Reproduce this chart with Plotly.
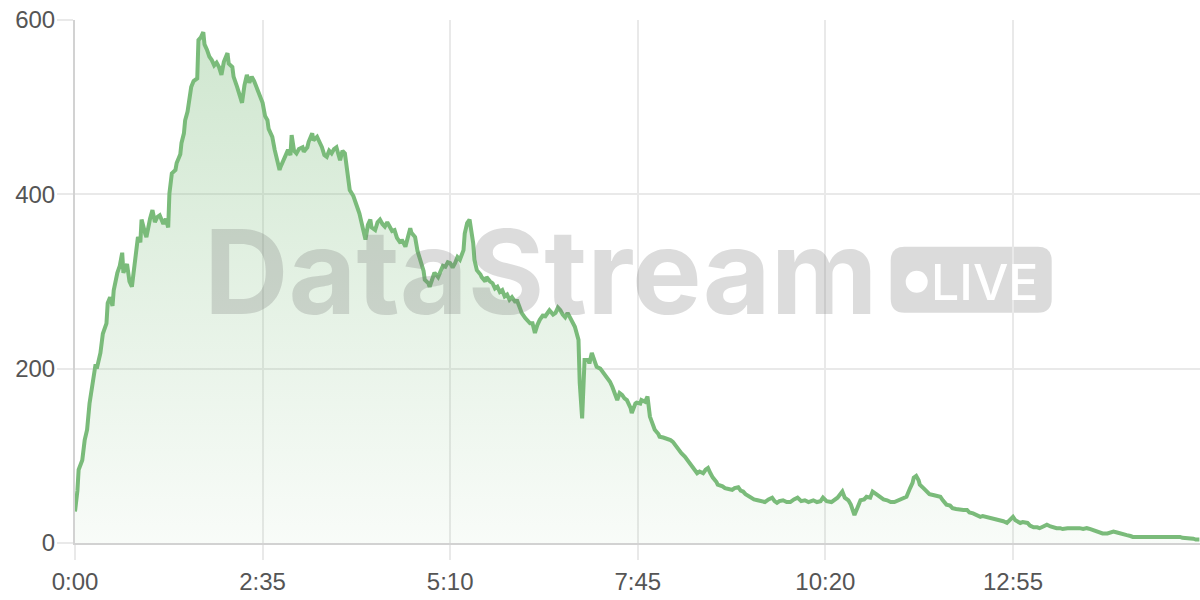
import plotly.graph_objects as go

# seconds since start, viewers
seconds = [
    0, 2, 3, 6, 8, 10, 12, 14, 17, 18, 21, 23, 26, 27, 29, 31, 32, 35, 37, 39,
    40, 43, 45, 47, 50, 52, 54, 55, 58, 59, 62, 64, 66, 68, 70, 73, 75, 77, 78, 80,
    83, 84, 87, 88, 90, 91, 93, 94, 96, 98, 101, 102, 104, 106, 107, 109, 111, 113, 115, 117,
    119, 121, 123, 126, 127, 130, 131, 134, 136, 138, 140, 142, 144, 146, 148, 150, 153, 155, 157, 159,
    160, 163, 165, 167, 169, 170, 172, 174, 176, 178, 179, 181, 183, 185, 188, 189, 192, 193, 196, 197,
    200, 202, 204, 206, 208, 210, 212, 214, 216, 219, 221, 223, 226, 227, 230, 231, 234, 235, 238, 240,
    242, 244, 245, 248, 250, 252, 254, 256, 258, 260, 262, 264, 266, 269, 270, 273, 275, 277, 278, 281,
    283, 285, 288, 289, 292, 293, 296, 297, 300, 302, 304, 306, 308, 310, 312, 314, 316, 318, 321, 322,
    324, 326, 328, 329, 330, 332, 335, 336, 339, 340, 343, 345, 347, 349, 351, 353, 355, 357, 359, 361,
    364, 365, 368, 369, 372, 373, 376, 378, 380, 382, 384, 387, 388, 391, 392, 395, 397, 399, 401, 403,
    405, 407, 409, 411, 413, 416, 417, 419, 420, 421, 424, 425, 427, 430, 431, 434, 435, 438, 440, 442,
    444, 446, 448, 450, 452, 454, 456, 459, 460, 463, 464, 467, 468, 471, 473, 475, 477, 479, 482, 483,
    486, 489, 492, 494, 497, 498, 501, 504, 506, 510, 512, 514, 516, 519, 521, 523, 525, 527, 530, 531,
    535, 537, 540, 543, 545, 548, 550, 552, 554, 558, 561, 564, 568, 570, 573, 576, 578, 580, 582, 585,
    588, 591, 594, 597, 600, 603, 606, 610, 613, 616, 618, 621, 625, 628, 630, 634, 636, 639, 641, 644,
    647, 649, 652, 654, 657, 659, 662, 665, 668, 671, 674, 677, 680, 683, 686, 687, 690, 692, 693, 695,
    697, 698, 701, 704, 706, 709, 712, 715, 717, 720, 723, 725, 728, 731, 734, 737, 739, 742, 745, 748,
    750, 753, 756, 758, 762, 764, 767, 770, 772, 775, 777, 781, 783, 787, 789, 792, 795, 797, 800, 803,
    806, 808, 811, 814, 816, 820, 822, 825, 828, 830, 833, 836, 839, 841, 844, 847, 849, 853, 855, 858,
    861, 863, 866, 869, 872, 874, 877, 880, 882, 886, 888, 891, 894, 896, 899, 902, 905, 907, 910, 913,
    915, 919, 921, 924, 926, 929,
]
viewers = [
    36, 60, 84, 95, 118, 130, 160, 180, 205, 200, 218, 240, 252, 275, 282, 272, 290, 310, 318, 333,
    310, 320, 300, 294, 333, 351, 345, 371, 355, 351, 372, 382, 368, 374, 376, 366, 372, 362, 401, 424,
    428, 436, 446, 459, 470, 485, 495, 505, 523, 530, 533, 577, 580, 586, 572, 566, 558, 554, 548, 551,
    546, 537, 552, 562, 550, 546, 535, 523, 515, 505, 525, 537, 528, 535, 530, 523, 510, 505, 490, 485,
    475, 466, 451, 440, 428, 432, 439, 446, 451, 445, 468, 450, 447, 452, 454, 449, 454, 460, 470, 462,
    466, 460, 454, 445, 443, 450, 447, 452, 454, 439, 450, 447, 416, 405, 398, 393, 382, 378, 360, 348,
    365, 371, 362, 359, 368, 371, 366, 363, 368, 363, 358, 359, 350, 344, 348, 340, 350, 361, 356, 351,
    335, 325, 312, 302, 298, 294, 305, 310, 305, 313, 318, 317, 322, 321, 316, 321, 328, 325, 336, 355,
    367, 371, 356, 344, 325, 313, 308, 305, 300, 305, 300, 298, 292, 294, 288, 290, 283, 285, 279, 282,
    276, 279, 268, 264, 258, 256, 252, 252, 241, 250, 256, 262, 259, 265, 267, 262, 264, 270, 267, 262,
    259, 264, 259, 254, 248, 233, 184, 143, 170, 210, 210, 206, 218, 205, 202, 200, 198, 194, 190, 185,
    179, 170, 164, 172, 170, 166, 164, 155, 149, 160, 161, 160, 164, 162, 168, 145, 138, 130, 125, 122,
    121, 120, 118, 116, 110, 107, 103, 99, 95, 89, 84, 80, 82, 80, 84, 86, 80, 75, 70, 67,
    65, 63, 62, 61, 63, 64, 60, 59, 56, 52, 50, 49, 48, 47, 50, 52, 48, 46, 48, 49,
    47, 47, 50, 52, 48, 49, 47, 49, 47, 48, 52, 48, 47, 50, 52, 59, 52, 49, 44, 32,
    44, 49, 50, 53, 52, 59, 56, 53, 50, 49, 47, 47, 49, 50, 52, 53, 63, 69, 75, 77,
    72, 67, 63, 59, 56, 55, 54, 53, 49, 44, 43, 40, 39, 38, 38, 38, 35, 34, 32, 30,
    31, 30, 29, 29, 27, 26, 25, 23, 26, 30, 26, 23, 24, 23, 20, 18, 18, 17, 19, 21,
    19, 18, 17, 17, 16, 17, 17, 18, 17, 17, 16, 17, 16, 15, 13, 11, 11, 11, 12, 13,
    12, 11, 10, 9, 8, 7, 7, 7, 7, 7, 8, 8, 8, 8, 7, 7, 8, 8, 7, 7,
    6, 6, 5, 5, 4, 4,
]

tick_seconds = [0, 155, 310, 465, 620, 775]
tick_labels = ["0:00", "2:35", "5:10", "7:45", "10:20", "12:55"]
y_ticks = [0, 200, 400, 600]

GREEN = "rgb(122,187,122)"
GRID = "#e9e9e9"
AXIS = "#d2d2d2"

fig = go.Figure()
fig.add_trace(go.Scatter(
    x=seconds, y=viewers, mode="lines",
    line=dict(color=GREEN, width=4),
    fill="tozeroy",
    fillgradient=dict(
        type="vertical", start=0, stop=590,
        colorscale=[[0, "rgba(122,187,122,0.05)"], [1, "rgba(122,187,122,0.36)"]],
    ),
    hoverinfo="skip",
))

# watermark: pill + dot behind the grid, text on top
px_w, px_h = 1125, 523
def px_x(p):
    return (p - 75) / px_w
def px_y(p):
    return (543 - p) / px_h

x0, x1 = px_x(890.7), px_x(1051.7)
yt, yb = px_y(246.7), px_y(312.7)
rx, ry = 14 / px_w, 14 / px_h
pill = (f"M {x0+rx},{yb} L {x1-rx},{yb} Q {x1},{yb} {x1},{yb+ry} "
        f"L {x1},{yt-ry} Q {x1},{yt} {x1-rx},{yt} L {x0+rx},{yt} "
        f"Q {x0},{yt} {x0},{yt-ry} L {x0},{yb+ry} Q {x0},{yb} {x0+rx},{yb} Z")
fig.add_shape(type="path", path=pill, xref="paper", yref="paper",
              fillcolor="rgba(110,110,110,0.25)", line=dict(width=0), layer="below")
fig.add_shape(type="circle", xref="paper", yref="paper",
              x0=px_x(905.7), x1=px_x(927.7), y0=px_y(292.7), y1=px_y(270.7),
              fillcolor="white", line=dict(width=0), layer="below")

fig.add_annotation(text="DataStream", xref="paper", yref="paper",
                   x=px_x(540.5), y=px_y(271.5), xanchor="center", yanchor="middle",
                   showarrow=False,
                   font=dict(family="Inter", size=117, weight="bold", color="rgba(110,110,110,0.24)"))
fig.add_annotation(text="LIVE", xref="paper", yref="paper",
                   x=px_x(985), y=px_y(281.5), xanchor="center", yanchor="middle",
                   showarrow=False,
                   font=dict(family="Inter", size=50, weight=500, color="white"))

fig.update_layout(
    width=1200, height=600,
    margin=dict(l=75, r=0, t=20, b=57),
    paper_bgcolor="white", plot_bgcolor="rgba(0,0,0,0)",
    showlegend=False,
    font=dict(family="Liberation Sans", size=24, color="#555555"),
)
fig.update_xaxes(
    range=[0, 929.5], tickvals=tick_seconds, ticktext=tick_labels,
    showgrid=True, gridcolor=GRID, gridwidth=1.5,
    showline=True, linecolor=AXIS, linewidth=2,
    ticks="outside", ticklen=15, tickcolor=GRID, tickwidth=1.5,
    ticklabelstandoff=1, zeroline=False,
)
fig.update_yaxes(
    range=[0, 600], tickvals=y_ticks,
    showgrid=True, gridcolor=GRID, gridwidth=1.5,
    showline=True, linecolor=AXIS, linewidth=2,
    ticks="outside", ticklen=16, tickcolor=GRID, tickwidth=1.5,
    ticklabelstandoff=-3, zeroline=False,
)

fig.write_html("out.html", config={"displayModeBar": False},
               post_script="document.body.style.margin='0';")
